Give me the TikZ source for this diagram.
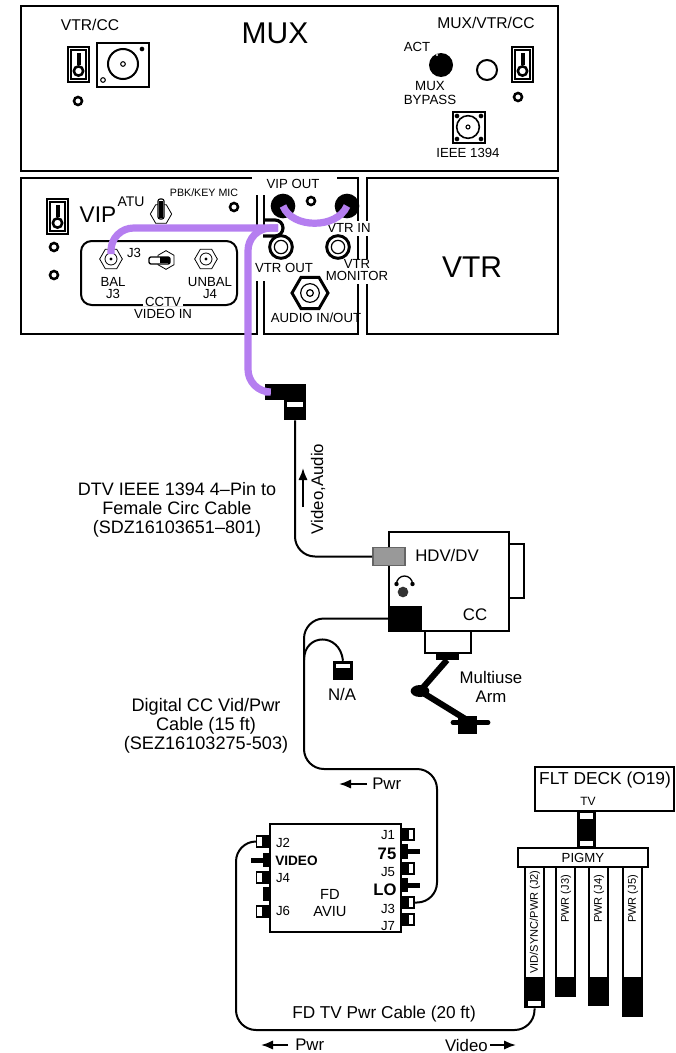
\documentclass[tikz,border=0pt]{standalone}
\usepackage{fontspec}
\setmainfont{Liberation Sans}
\usepackage{xcolor}
\usetikzlibrary{arrows.meta,fit,shapes.geometric}
\definecolor{cablepurple}{RGB}{181,126,240}
\definecolor{portgray}{RGB}{153,153,153}
\tikzset{
  panel/.style={draw, line width=1.6pt, inner sep=0pt, fill=white},
  devbox/.style={draw, line width=1.5pt, inner sep=0pt, fill=white},
  blkpart/.style={fill=black, inner sep=0pt},
  whtpart/.style={draw, line width=0.8pt, fill=white, inner sep=0pt},
  ring/.style={circle, draw, line width=1.9pt, fill=white, inner sep=0pt, minimum size=6pt},
  hexport/.style={regular polygon, regular polygon sides=6, draw, line width=0.6pt, fill=white, inner sep=0pt, minimum size=17pt},
  wire/.style={line width=1.5pt, rounded corners=15pt},
  purp/.style={line width=5.4pt, cablepurple, rounded corners=17pt},
  flow/.style={-{Latex[length=9pt,width=7pt]}, line width=1.4pt},
  big/.style={font=\fontsize{22.5}{24}\selectfont, inner sep=0pt},
  mid/.style={font=\fontsize{17}{19}\selectfont, inner sep=0pt},
  lbl/.style={font=\fontsize{12.6}{14.2}\selectfont, inner sep=0pt, align=center},
  lblb/.style={font=\fontsize{11.7}{12}\selectfont, inner sep=0pt, align=center},
  lblc/.style={font=\fontsize{9.9}{9.2}\selectfont, inner sep=0pt, align=center},
  lbld/.style={font=\fontsize{8}{9}\selectfont, inner sep=0pt, align=center},
  clr/.style={fill=white, inner sep=1pt},
}
\newcommand{\boxfit}[6]{\node[#1, fit={(#3,#4)(#5,#6)}] (#2) {};}
\newcommand{\rockerswitch}[3]{
  \boxfit{devbox}{#1}{#2}{#3}{#2+21}{#3+35}
  \draw[line width=1pt] (#2+3,#3+3) rectangle (#2+18,#3+32);
  \fill (#2+8.5,#3+6) rectangle (#2+12.5,#3+18);
  \node[ring, minimum size=7pt] (#1h) at (#2+10.5,#3+24) {};
}
\begin{document}
\begin{tikzpicture}[x=0.75pt,y=-0.75pt]
  \useasboundingbox (0,0) rectangle (675,1053);
  % rack panels
  \boxfit{panel}{muxpanel}{21}{6}{558}{171}
  \boxfit{panel}{vippanel}{21}{178}{257}{334}
  \boxfit{panel}{midpanel}{264}{178}{358}{334}
  \boxfit{panel}{vtrpanel}{367}{178}{558}{334}
  % MUX front
  \node[lblb] (vtrcc) at (90,25) {VTR/CC};
  \node[big] (muxname) at (275,33) {MUX};
  \node[lblb] (muxvtr) at (486,23) {MUX/VTR/CC};
  \rockerswitch{swa}{68}{47}
  \boxfit{devbox}{ccsock}{97}{43}{149}{87}
  \node[circle, draw, line width=1.5pt, minimum size=22.5pt, inner sep=0pt] (ccdial) at (123,64) {};
  \node[circle, draw, line width=0.8pt, minimum size=3.5pt, inner sep=0pt] (cchub) at (123,64) {};
  \node[circle, draw, line width=0.8pt, minimum size=3.5pt, inner sep=0pt] (ccpina) at (103,80) {};
  \node[circle, fill, minimum size=3.5pt, inner sep=0pt] (ccpinb) at (142,49) {};
  \foreach \i/\x/\y in {1/78/101, 2/518/97, 3/54/247, 4/54/275, 5/234/207} {
    \node[ring] (dot\i) at (\x,\y) {};
  }
  \rockerswitch{swb}{512}{47}
  \node[lblc] (act) at (417,47) {ACT};
  \node[circle, fill, minimum size=18pt, inner sep=0pt] (knob) at (441,65) {};
  \fill[white] (437,55) circle (1.2);
  \node[circle, draw, line width=1.5pt, minimum size=15pt, inner sep=0pt] (lamp) at (487,70) {};
  \node[lblc, font=\fontsize{10}{10}\selectfont] (bypass) at (430,93) {MUX\\BYPASS};
  \boxfit{devbox}{ieeebox}{453}{112}{485}{143}
  \node[circle, draw, line width=1.2pt, minimum size=17pt, inner sep=0pt] (ieeedial) at (468,127) {};
  \node[circle, draw, line width=0.8pt, minimum size=3pt, inner sep=0pt] (ieeehub) at (468,127) {};
  \foreach \i/\x/\y in {1/457/116, 2/481/116, 3/457/139, 4/481/139} {
    \node[circle, fill, minimum size=3.5pt, inner sep=0pt] (ieeepin\i) at (\x,\y) {};
  }
  \node[lblc] (ieeetxt) at (468,153) {IEEE 1394};
  % VIP front
  \rockerswitch{swc}{47}{199}
  \node[mid] (vipname) at (98,215) {VIP};
  \node[lblc, font=\fontsize{10.5}{10}\selectfont] (atu) at (131,202) {ATU};
  \node[lbld] (pbk) at (204,193) {PBK/KEY MIC};
  \node[hexport, minimum size=16pt] (atuhex) at (161,214) {};
  \draw[fill=white, line width=0.8pt, rounded corners=1.5pt] (158,199) rectangle (164,219);
  \fill (159,201) rectangle (163,218);
  \draw[line width=1.5pt, rounded corners=8pt] (81,273) -- (81,241) -- (237,241) -- (237,305) -- (81,305) -- cycle;
  \node[hexport] (balhex) at (111,259) {};
  \node[circle, draw, line width=0.6pt, minimum size=9pt, inner sep=0pt] (balin) at (111,259) {};
  \node[circle, fill, minimum size=2.5pt, inner sep=0pt] (balpin) at (111,259) {};
  \node[hexport] (unbhex) at (206,259) {};
  \node[circle, draw, line width=0.6pt, minimum size=9pt, inner sep=0pt] (unbin) at (206,259) {};
  \node[circle, fill, minimum size=2.5pt, inner sep=0pt] (unbpin) at (206,259) {};
  \node[lblc] (j3a) at (134,253) {J3};
  \node[hexport, minimum size=14pt, rotate=90] (ctvhex) at (166,260) {};
  \draw[fill=white, line width=1pt, rounded corners=1.5pt] (149,257) rectangle (170,264);
  \fill (160,257) rectangle (170,263);
  \node[lblc] (balj) at (113,288) {BAL\\J3};
  \node[lblc] (unbj) at (210,288) {UNBAL\\J4};
  \node[lblc, clr, inner sep=0pt, text height=8pt] (cctv) at (163,301) {\,CCTV\,};
  \node[lblc] (vidin) at (163,314) {VIDEO IN};
  % switch panel
  \fill[white] (252,175) rectangle (337,195);
  \node[lblc] (vipout) at (293,184) {VIP OUT};
  \node[ring] (midled) at (311,201) {};
  \node[circle, fill, minimum size=18.5pt, inner sep=0pt] (outa) at (283,206) {};
  \node[circle, fill, minimum size=18.5pt, inner sep=0pt] (outb) at (347,206) {};
  \fill[white] (255,232) rectangle (268,281);
  \fill[white] (354,221) rectangle (371,236);
  \fill[white] (354,259) rectangle (371,284);
  \foreach \i/\x in {a/281, b/338} {
    \node[circle, draw, line width=2.2pt, fill=white, minimum size=17pt, inner sep=0pt] (jack\i) at (\x,247) {};
    \node[circle, draw, line width=0.9pt, minimum size=10pt, inner sep=0pt] (jacki\i) at (\x,247) {};
  }
  \node[regular polygon, regular polygon sides=6, draw, fill=white, line width=2.2pt, minimum size=27pt, inner sep=0pt] (audiohex) at (310,293) {};
  \node[circle, draw, line width=0.9pt, minimum size=14pt, inner sep=0pt] (audioin) at (310,293) {};
  \node[circle, draw, line width=0.9pt, minimum size=5pt, inner sep=0pt] (audiopin) at (310,293) {};
  \node[lblc] (vtrin) at (349,228) {VTR IN};
  \node[lblc] (vtrout) at (284,268) {VTR OUT};
  \node[lblc] (monitor) at (357,270) {VTR\\MONITOR};
  \node[lblc] (audiotxt) at (316,318) {AUDIO IN/OUT};
  \node[big] (vtrname) at (472,267) {VTR};
  % purple cables
  \coordinate (hookend) at (278,228);
  \coordinate (balend) at (111,254);
  \draw[line width=2.4pt, rounded corners=6pt] (263,220) -- (283,220) -- (283,236) -- (263,236);
  \boxfit{blkpart}{dvplug}{265}{384}{306}{400}
  \boxfit{blkpart}{dvbody}{284}{400}{306}{420}
  \boxfit{whtpart}{dvwin}{286.5}{401}{303.5}{408}
  \draw[purp] (balend) -- (111,228) -- (hookend);
  \draw[purp] (hookend) -- (248,228) -- (248,392) -- (dvplug.west);
  \draw[line width=5.4pt, cablepurple] (outa.center) .. controls (292,229) and (337,229) .. (outb.center);
  % camera
  \boxfit{devbox}{eyepiece}{509}{544}{524}{598}
  \boxfit{devbox}{camera}{389}{532}{509}{631}
  \boxfit{blkpart}{ccport}{389}{606}{422}{631}
  \boxfit{devbox}{ccmount}{425}{631}{471}{653}
  \boxfit{blkpart}{mountfoot}{436}{653}{459}{660}
  \node[draw=black!60, line width=1.2pt, fill=portgray, inner sep=0pt, minimum width=24pt, minimum height=13.5pt] (hdvport) at (389,556.5) {};
  \node[lbl] (hdvtxt) at (447,555) {HDV/DV};
  \node[lbl] (cctxt) at (475,615) {CC};
  \node[circle, fill=black!80, minimum size=8pt, inner sep=0pt] (earcup) at (403,592) {};
  \draw[line width=1pt] (396.5,584) arc[start angle=180, end angle=360, radius=8];
  \fill (396.5,584) circle (2.2) (412.5,584) circle (2.2);
  % arm
  \coordinate (armtop) at (447,660);
  \node[ellipse, fill, minimum width=14pt, minimum height=9pt, inner sep=0pt] (armjoint) at (420,691) {};
  \coordinate (armend) at (467,720);
  \draw[line width=4.6pt] (armtop) -- (armjoint.center) -- (armend);
  \boxfit{blkpart}{armfoot}{458}{716}{477}{734}
  \draw[line width=3.6pt, line cap=round] (453,722.5) -- (488,722.5);
  \node[lbl] (armtxt) at (491,687) {Multiuse\\Arm};
  % video cable
  \draw[wire] (dvbody.south) -- (295,556.5) -- (hdvport.west);
  \draw[flow] (303,507) -- (303,468);
  \node[lbl, rotate=90] (vidaudio) at (318,489) {Video,Audio};
  \node[lbl, font=\fontsize{13.5}{14.3}\selectfont] (dtvtxt) at (177,510) {DTV IEEE 1394 4--Pin to\\Female Circ Cable\\(SDZ16103651--801)};
  % N/A plug
  \boxfit{blkpart}{naplug}{333}{661}{353}{680}
  \boxfit{whtpart}{nawin}{335.5}{663.5}{350.5}{669}
  \node[lbl] (natxt) at (342,694) {N/A};
  \coordinate (nasplit) at (304,660);
  \draw[line width=1.5pt] (nasplit) .. controls (304,633) and (340,632) .. (naplug.north);
  % AVIU
  \boxfit{devbox}{aviu}{270}{824}{401}{932}
  \foreach \n/\y in {ja/828, jb/862, jc/896, jd/913} {
    \boxfit{blkpart}{\n}{401}{\y}{408}{\y+13}
    \boxfit{whtpart}{\n w}{408}{\y+1}{414}{\y+12}
  }
  \boxfit{blkpart}{jlo}{401}{878}{408}{892}
  \boxfit{blkpart}{jlob}{401}{882.5}{420}{887.5}
  \boxfit{blkpart}{jse}{401}{844}{408}{859}
  \boxfit{blkpart}{jseb}{401}{848.5}{420}{853.5}
  \foreach \n/\y in {ka/835, kb/871, kc/905} {
    \boxfit{blkpart}{\n}{263}{\y}{270}{\y+13}
    \boxfit{whtpart}{\n w}{256.5}{\y+1}{263}{\y+12}
  }
  \boxfit{blkpart}{kd}{263}{887}{270}{901}
  \boxfit{blkpart}{ke}{263}{853}{270}{867}
  \boxfit{blkpart}{keb}{251}{857.5}{270}{862.5}
  \node[lblc] (tj2) at (283,843) {J2};
  \node[lblc, font=\fontsize{10.2}{10}\selectfont\bfseries, anchor=west] (tvideo) at (275,861) {VIDEO};
  \node[lblc] (tj4) at (283,878) {J4};
  \node[lblc] (tj6) at (283,911) {J6};
  \node[lblc] (tj1) at (388,835) {J1};
  \node[lblc, font=\fontsize{12.5}{12}\selectfont\bfseries] (t75) at (387,854) {75};
  \node[lblc] (tj5) at (388,872) {J5};
  \node[lblc, font=\fontsize{12.5}{12}\selectfont\bfseries] (tlo) at (385,890) {LO};
  \node[lblc] (tj3) at (388,909) {J3};
  \node[lblc] (tj7) at (388,926) {J7};
  \node[lblc, font=\fontsize{11}{13}\selectfont] (fdname) at (330,903) {FD\\AVIU};
  % CC to AVIU cable
  \draw[wire] (jcw.east) -- (437,902.5) -- (437,769) -- (304,769) -- (304,618.5) -- (ccport.west);
  \draw[flow] (367,784) -- (339,784);
  \node[lbl, anchor=west] (pwra) at (372,784) {Pwr};
  \node[lbl, font=\fontsize{13.6}{14.3}\selectfont] (digtxt) at (206,726) {Digital CC Vid/Pwr\\Cable (15 ft)\\(SEZ16103275-503)};
  % flight deck
  \boxfit{devbox}{fltdeck}{535}{767}{674}{811}
  \node[lbl, font=\fontsize{13}{14}\selectfont] (flttxt) at (605,780) {FLT DECK (O19)};
  \node[lbld, font=\fontsize{9}{9}\selectfont] (tvtxt) at (588,801) {TV};
  \boxfit{blkpart}{tvplug}{577}{811}{596}{848}
  \boxfit{whtpart}{tvwina}{579}{812}{594}{820}
  \boxfit{whtpart}{tvwinb}{579}{840}{594}{847}
  \boxfit{devbox}{pigmy}{518}{848}{648}{867}
  \node[lblc] (pigtxt) at (583,857.5) {PIGMY};
  \foreach \n/\x/\e in {sa/525/1008, sb/556/997, sc/589/1006, sd/623/1017} {
    \boxfit{devbox}{\n}{\x}{867}{\x+19}{980}
    \boxfit{blkpart}{\n e}{\x-1}{977}{\x+20}{\e}
  }
  \node[lbld, font=\fontsize{8.3}{9}\selectfont, rotate=90] (tsa) at (535,922) {VID/SYNC/PWR (J2)};
  \node[lbld, font=\fontsize{8.3}{9}\selectfont, rotate=90] (tsb) at (566,899) {PWR (J3)};
  \node[lbld, font=\fontsize{8.3}{9}\selectfont, rotate=90] (tsc) at (599,899) {PWR (J4)};
  \node[lbld, font=\fontsize{8.3}{9}\selectfont, rotate=90] (tsd) at (633,899) {PWR (J5)};
  \boxfit{whtpart}{sawin}{527}{1000}{542}{1007}
  % AVIU to pigmy cable
  \draw[wire] (kaw.west) -- (236,841.5) -- (236,1030) -- (534.5,1030) -- (sae.south);
  \node[lbl, font=\fontsize{12.9}{14}\selectfont] (fdcable) at (384,1014) {FD TV Pwr Cable (20 ft)};
  \draw[flow] (288,1045) -- (261,1045);
  \node[lbl, anchor=west] (pwrb) at (295,1045) {Pwr};
  \node[lbl, anchor=east] (vidb) at (488,1045) {Video};
  \draw[flow] (490,1045) -- (516,1045);
\end{tikzpicture}
\end{document}
